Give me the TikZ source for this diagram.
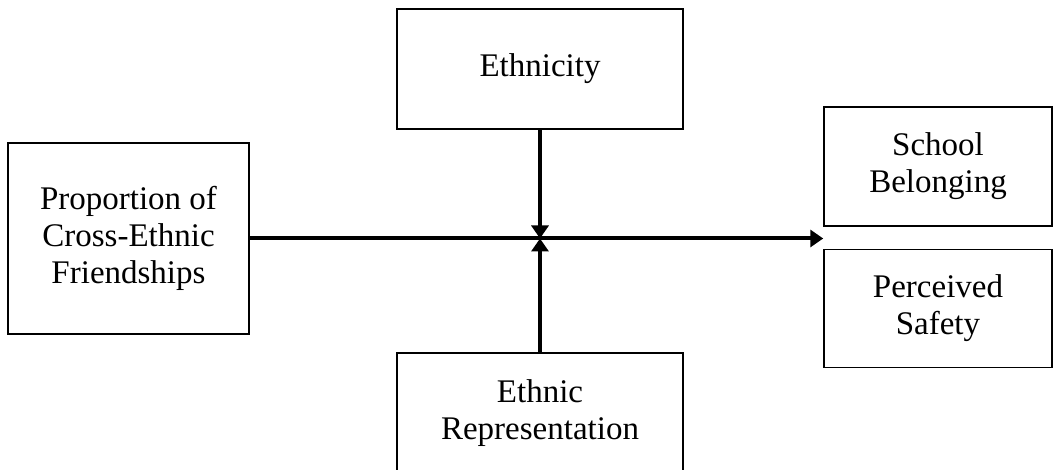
\documentclass[tikz,border=0pt]{standalone}
\usepackage{fontspec}
\setmainfont{Liberation Serif}
\usetikzlibrary{arrows.meta}

\begin{document}
\begin{tikzpicture}[x=1pt,y=1pt]
\tikzstyle{box} = [draw,line width=1.5pt,align=center,inner sep=0pt,font=\fontsize{33}{37}\selectfont]
\tikzstyle{link} = [line width=4pt,-{Triangle[length=13pt,width=17pt]}]

\useasboundingbox (0,0) rectangle (1053,470);

\node[box,minimum width=241,minimum height=191] (src) at (128.5,231.5) {Proportion of\\Cross-Ethnic\\Friendships};
\node[box,minimum width=286,minimum height=120] (eth) at (540,401) {Ethnicity};
\node[box,minimum width=286,minimum height=120] (rep) at (540,57) {Ethnic\\Representation};

\node[box,minimum width=228,minimum height=119] (belong) at (938,303.5) {School\\Belonging};
\node[box,minimum width=228,minimum height=118] (safe) at (938,161.5) {Perceived\\Safety};

\coordinate (mid) at (src.east -| eth.south);
\coordinate (gap) at (src.east -| belong.west);

\draw[link] (src.east) -- (gap);
\draw[link] (eth.south) -- (mid);
\draw[link] (rep.north) -- (mid);

\end{tikzpicture}
\end{document}
